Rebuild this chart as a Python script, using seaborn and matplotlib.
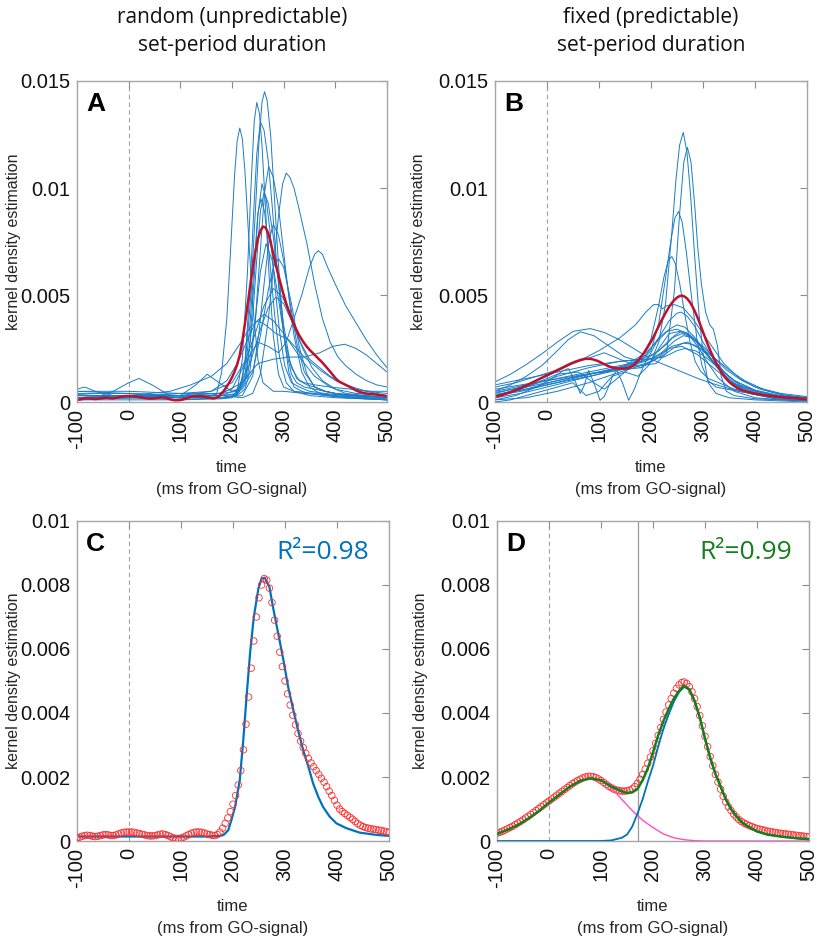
import matplotlib
matplotlib.use("Agg")
import matplotlib.pyplot as plt
import numpy as np
import pandas as pd
import seaborn as sns
from matplotlib.ticker import FuncFormatter

# ---------------- data (density values in units of 1e-3) ----------------
SCALE = 1e-3
T5 = list(range(-100, 505, 5))

# mean KDE, random set-period (panel A red line / panel C circles)
MEAN_A = [0.10, 0.12, 0.15, 0.17, 0.18, 0.17, 0.15, 0.14, 0.15, 0.17, 0.19, 0.20, 0.19, 0.17, 0.17, 0.19, 0.22, 0.25, 0.27, 0.28,
          0.28, 0.28, 0.27, 0.25, 0.23, 0.21, 0.19, 0.17, 0.16, 0.16, 0.17, 0.19, 0.21, 0.22, 0.20, 0.17, 0.13, 0.10, 0.08, 0.08,
          0.09, 0.12, 0.16, 0.20, 0.24, 0.27, 0.28, 0.28, 0.27, 0.25, 0.22, 0.20, 0.18, 0.17, 0.20, 0.28, 0.40, 0.55, 0.72, 0.92,
          1.15, 1.42, 1.75, 2.20, 2.85, 3.65, 4.50, 5.40, 6.25, 7.00, 7.60, 8.00, 8.20, 8.15, 7.90, 7.45, 6.90, 6.40, 5.90, 5.45,
          5.00, 4.60, 4.25, 3.93, 3.63, 3.36, 3.12, 2.92, 2.74, 2.58, 2.44, 2.32, 2.20, 2.08, 1.96, 1.84, 1.70, 1.56, 1.42, 1.27,
          1.12, 1.00, 0.92, 0.86, 0.80, 0.74, 0.68, 0.61, 0.54, 0.49, 0.45, 0.42, 0.40, 0.38, 0.37, 0.36, 0.34, 0.33, 0.31, 0.29, 0.27]

# mean KDE, fixed set-period (panel B red line / panel D circles)
MEAN_B = [0.24, 0.27, 0.30, 0.34, 0.38, 0.42, 0.46, 0.51, 0.56, 0.61, 0.66, 0.72, 0.77, 0.83, 0.89, 0.95, 1.01, 1.07, 1.13, 1.19,
          1.25, 1.31, 1.37, 1.43, 1.49, 1.55, 1.61, 1.67, 1.73, 1.79, 1.84, 1.89, 1.93, 1.97, 2.00, 2.02, 2.02, 2.01, 1.98, 1.94,
          1.89, 1.83, 1.77, 1.71, 1.66, 1.62, 1.59, 1.57, 1.56, 1.56, 1.57, 1.59, 1.63, 1.70, 1.80, 1.93, 2.08, 2.25, 2.43, 2.62,
          2.82, 3.05, 3.30, 3.55, 3.80, 4.03, 4.25, 4.45, 4.62, 4.77, 4.88, 4.95, 4.97, 4.92, 4.82, 4.66, 4.45, 4.20, 3.92, 3.60,
          3.27, 2.95, 2.64, 2.35, 2.08, 1.84, 1.62, 1.40, 1.22, 1.07, 0.95, 0.84, 0.75, 0.67, 0.61, 0.56, 0.52, 0.48, 0.45, 0.42,
          0.39, 0.37, 0.35, 0.33, 0.31, 0.30, 0.28, 0.27, 0.25, 0.24, 0.23, 0.22, 0.21, 0.20, 0.19, 0.18, 0.17, 0.16, 0.15, 0.14, 0.13]

# individual participants, panel A
a01_t = [-100, -60, -20, 20, 60, 100, 140, 170, 180, 190, 197, 205, 210, 215, 220, 225, 233, 240, 250, 260, 280, 300, 340, 400, 450, 500]
a01_v = [0.35, 0.3, 0.3, 0.25, 0.25, 0.2, 0.2, 0.35, 1.4, 3.9, 7.0, 10.6, 12.2, 12.8, 12.3, 10.8, 7.4, 4.6, 2.0, 0.9, 0.5, 0.5, 0.4, 0.3, 0.2, 0.15]
a02_t = [-100, -60, -30, 0, 20, 45, 80, 140, 180, 200, 210, 220, 230, 237, 243, 248, 253, 258, 265, 272, 280, 290, 300, 320, 360, 420, 500]
a02_v = [0.2, 0.25, 0.5, 0.9, 1.1, 0.8, 0.3, 0.2, 0.2, 0.25, 0.5, 2.0, 6.1, 10.2, 13.1, 14.0, 13.5, 12.0, 9.0, 5.8, 3.1, 1.3, 0.7, 0.5, 0.4, 0.2, 0.1]
a03_t = [-100, -85, -65, -30, 0, 100, 180, 200, 215, 225, 235, 245, 252, 258, 263, 268, 275, 282, 290, 300, 310, 320, 335, 350, 380, 420, 500]
a03_v = [0.6, 0.7, 0.5, 0.3, 0.2, 0.1, 0.15, 0.2, 0.5, 1.7, 4.5, 8.8, 12.1, 14.0, 14.5, 14.1, 12.4, 9.6, 6.4, 3.2, 1.4, 0.7, 0.5, 0.4, 0.3, 0.2, 0.1]
a04_t = [-100, 0, 100, 180, 200, 215, 225, 235, 242, 248, 255, 262, 270, 278, 286, 295, 305, 315, 325, 340, 360, 400, 450, 500]
a04_v = [0.3, 0.3, 0.2, 0.2, 0.25, 0.6, 1.9, 5.3, 8.9, 11.6, 13.1, 12.7, 11.3, 9.1, 6.6, 4.2, 2.4, 1.3, 0.9, 0.7, 0.6, 0.4, 0.3, 0.2]
a05_t = [-100, 0, 100, 180, 210, 225, 235, 245, 255, 263, 271, 280, 290, 300, 310, 320, 335, 350, 370, 400, 450, 500]
a05_v = [0.2, 0.2, 0.2, 0.2, 0.3, 0.6, 1.5, 3.8, 7.1, 9.8, 11.0, 10.5, 9.1, 7.0, 4.9, 3.1, 1.4, 0.7, 0.4, 0.3, 0.2, 0.1]
a06_t = [-100, 0, 100, 180, 220, 240, 255, 270, 280, 290, 298, 305, 312, 320, 330, 345, 360, 375, 390, 405, 420, 440, 460, 480, 500]
a06_v = [0.2, 0.2, 0.3, 0.3, 0.2, 0.4, 1.3, 3.8, 6.2, 8.7, 10.2, 10.7, 10.5, 10.0, 9.0, 7.4, 5.5, 3.9, 2.8, 2.1, 1.7, 1.3, 1.0, 0.8, 0.7]
a07_t = [-100, 0, 100, 160, 200, 225, 250, 270, 290, 305, 320, 335, 350, 360, 367, 375, 385, 400, 420, 440, 460, 480, 500]
a07_v = [0.1, 0.2, 0.3, 0.3, 0.6, 1.8, 2.8, 2.6, 2.3, 2.8, 3.9, 5.0, 6.3, 6.9, 7.07, 6.9, 6.3, 5.5, 4.5, 3.7, 2.9, 2.2, 1.6]
a08_t = [-100, 0, 100, 180, 220, 250, 280, 310, 340, 370, 395, 418, 440, 460, 480, 500]
a08_v = [0.3, 0.3, 0.3, 0.4, 0.9, 1.8, 2.0, 2.1, 2.1, 2.3, 2.6, 2.7, 2.5, 2.2, 1.8, 1.4]
a09_t = [-100, 0, 80, 120, 160, 190, 215, 235, 250, 265, 285, 310, 340, 370, 400, 440, 500]
a09_v = [0.2, 0.3, 0.5, 0.8, 1.2, 1.8, 2.7, 3.5, 3.8, 3.6, 3.2, 2.9, 2.1, 1.5, 1.0, 0.6, 0.3]
a10_t = [-100, 0, 100, 160, 190, 210, 230, 245, 262, 280, 300, 320, 340, 360, 390, 420, 460, 500]
a10_v = [0.1, 0.2, 0.3, 0.5, 1.0, 1.8, 2.9, 3.7, 4.1, 3.8, 3.2, 2.5, 1.8, 1.2, 0.7, 0.4, 0.3, 0.2]
a11_t = [-100, 0, 100, 180, 220, 240, 252, 262, 272, 280, 290, 300, 312, 325, 340, 360, 380, 400, 430, 460, 500]
a11_v = [0.1, 0.2, 0.2, 0.2, 0.3, 1.2, 3.2, 5.5, 7.6, 8.3, 7.8, 6.6, 4.7, 2.8, 1.4, 0.7, 0.5, 0.4, 0.3, 0.2, 0.2]
a12_t = [-100, 0, 100, 180, 210, 230, 245, 255, 266, 278, 290, 302, 315, 330, 345, 360, 380, 400, 440, 500]
a12_v = [0.3, 0.3, 0.2, 0.3, 0.4, 1.2, 3.8, 6.1, 7.4, 6.6, 4.8, 2.9, 1.6, 1.0, 0.8, 0.7, 0.5, 0.4, 0.3, 0.2]
a13_t = [-100, 0, 100, 130, 152, 175, 200, 220, 240, 255, 270, 280, 290, 300, 315, 330, 345, 360, 380, 400, 430, 460, 500]
a13_v = [0.4, 0.4, 0.3, 0.8, 1.3, 0.9, 0.5, 0.6, 1.4, 3.1, 5.2, 6.3, 6.7, 6.3, 4.6, 2.6, 1.3, 0.7, 0.5, 0.4, 0.3, 0.3, 0.2]
a14_t = [-100, 0, 100, 160, 200, 225, 245, 262, 280, 298, 315, 335, 355, 375, 400, 440, 500]
a14_v = [0.2, 0.3, 0.4, 0.5, 0.9, 1.9, 3.2, 4.5, 5.3, 4.9, 3.9, 2.6, 1.6, 1.0, 0.6, 0.4, 0.3]
a15_t = [-100, 0, 100, 180, 210, 235, 255, 270, 285, 300, 315, 330, 350, 370, 390, 420, 460, 500]
a15_v = [0.5, 0.4, 0.3, 0.3, 0.6, 1.8, 3.4, 4.4, 4.9, 4.6, 3.8, 2.9, 2.0, 1.6, 1.2, 0.8, 0.5, 0.4]
a16_t = [-100, 0, 100, 180, 210, 225, 235, 243, 250, 258, 266, 274, 282, 292, 302, 315, 330, 350, 380, 420, 500]
a16_v = [0.3, 0.3, 0.3, 0.3, 0.35, 0.9, 2.9, 5.8, 8.7, 10.2, 9.5, 7.9, 5.7, 3.3, 1.7, 0.9, 0.7, 0.5, 0.4, 0.3, 0.2]
a17_t = [-100, 0, 100, 180, 210, 228, 240, 248, 255, 262, 270, 280, 290, 300, 312, 325, 340, 360, 390, 430, 470, 500]
a17_v = [0.5, 0.5, 0.4, 0.4, 0.5, 1.2, 3.9, 6.7, 8.9, 9.8, 9.3, 7.7, 5.6, 3.6, 1.9, 1.1, 0.9, 0.8, 0.7, 0.6, 0.5, 0.5]
a18_t = [-100, 0, 100, 180, 205, 225, 235, 243, 250, 256, 263, 272, 282, 292, 305, 320, 350, 400, 500]
a18_v = [0.1, 0.1, 0.1, 0.2, 0.3, 1.2, 3.7, 6.5, 8.8, 9.5, 8.9, 6.9, 4.2, 2.1, 0.9, 0.5, 0.3, 0.2, 0.1]

# individual participants, panel B
b01_t = [-100, -40, 20, 80, 140, 180, 200, 215, 228, 240, 248, 255, 262, 269, 276, 284, 292, 300, 310, 325, 350, 400, 450, 500]
b01_v = [0.3, 0.6, 1.0, 1.3, 1.5, 1.6, 1.9, 2.8, 4.6, 7.9, 10.4, 12.0, 12.6, 11.7, 9.7, 6.8, 4.2, 2.3, 0.9, 0.4, 0.2, 0.1, 0.05, 0.0]
b02_t = [-100, -40, 20, 80, 140, 180, 210, 230, 245, 255, 263, 270, 277, 284, 290, 297, 305, 313, 320, 328, 335, 345, 360, 400, 450, 500]
b02_v = [0.1, 0.2, 0.5, 0.9, 1.4, 1.7, 1.8, 2.3, 5.2, 8.8, 11.2, 11.9, 11.2, 9.2, 7.2, 5.5, 4.2, 3.6, 3.4, 2.6, 1.2, 0.5, 0.3, 0.15, 0.1, 0.05]
b03_t = [-100, -40, 20, 80, 140, 180, 200, 215, 228, 238, 246, 253, 260, 268, 278, 288, 298, 310, 325, 345, 380, 420, 460, 500]
b03_v = [0.5, 0.8, 1.1, 1.4, 1.7, 1.9, 2.4, 3.7, 5.8, 7.5, 8.6, 8.9, 8.4, 7.0, 4.9, 3.0, 1.7, 1.0, 0.7, 0.6, 0.45, 0.3, 0.2, 0.15]
b04_t = [-100, -40, 20, 80, 140, 180, 200, 215, 225, 233, 240, 247, 255, 265, 275, 285, 295, 310, 330, 360, 400, 450, 500]
b04_v = [0.3, 0.7, 1.2, 1.6, 1.9, 2.0, 2.95, 4.55, 5.85, 6.6, 6.8, 6.45, 5.55, 4.1, 2.8, 1.9, 1.45, 1.1, 0.9, 0.6, 0.4, 0.25, 0.15]
b05_t = [-100, -60, -20, 20, 60, 100, 140, 170, 190, 205, 215, 222, 230, 245, 262, 280, 300, 320, 340, 370, 400, 450, 500]
b05_v = [0.7, 0.9, 1.2, 1.5, 1.9, 2.4, 3.0, 3.6, 4.2, 4.55, 4.55, 4.35, 4.5, 4.55, 4.4, 3.9, 3.2, 2.5, 1.8, 1.1, 0.7, 0.4, 0.25]
b06_t = [-100, -70, -40, -10, 20, 50, 83, 110, 140, 170, 200, 230, 260, 290, 320, 340, 370, 400, 450, 500]
b06_v = [0.94, 1.3, 1.75, 2.25, 2.8, 3.3, 3.43, 3.25, 2.9, 2.45, 2.0, 1.7, 1.4, 1.1, 0.85, 0.7, 0.5, 0.35, 0.2, 0.1]
b07_t = [-100, -70, -40, -10, 20, 40, 64, 90, 120, 150, 180, 210, 240, 270, 300, 330, 370, 420, 500]
b07_v = [0.5, 0.8, 1.2, 1.7, 2.4, 2.9, 3.28, 3.1, 2.6, 2.1, 1.9, 2.1, 2.6, 2.8, 2.4, 1.6, 0.8, 0.35, 0.15]
b08_t = [-100, -60, -20, 10, 30, 41, 52, 64, 72, 80, 90, 102, 110, 118, 126, 134, 145, 157, 168, 179,
         190, 200, 215, 230, 250, 270, 290, 310, 330, 360, 400, 450, 500]
b08_v = [0.1, 0.3, 0.7, 1.1, 1.45, 1.56, 1.1, 0.4, 0.8, 1.48, 0.9, 0.08, 0.25, 0.7, 1.2, 1.48, 0.9, 0.08, 0.6, 1.3,
         1.9, 2.3, 3.0, 3.3, 3.4, 3.2, 2.6, 1.8, 1.1, 0.5, 0.2, 0.1, 0.05]
b09_t = [-100, -50, 0, 50, 100, 150, 190, 215, 235, 250, 258, 270, 285, 300, 320, 345, 370, 400, 440, 500]
b09_v = [0.6, 0.8, 1.0, 1.2, 1.4, 1.6, 2.2, 3.0, 3.8, 4.15, 4.2, 4.0, 3.5, 2.8, 2.0, 1.3, 0.8, 0.5, 0.3, 0.15]
b10_t = [-100, -50, 0, 50, 100, 150, 190, 215, 235, 250, 265, 285, 305, 330, 360, 400, 450, 500]
b10_v = [0.3, 0.5, 0.8, 1.1, 1.4, 1.7, 2.3, 2.9, 3.4, 3.6, 3.5, 3.0, 2.3, 1.6, 1.0, 0.55, 0.3, 0.15]
b11_t = [-100, -50, 0, 50, 100, 150, 190, 210, 230, 245, 258, 272, 290, 310, 335, 365, 400, 450, 500]
b11_v = [0.2, 0.4, 0.7, 1.0, 1.3, 1.7, 2.1, 2.3, 2.7, 3.1, 3.3, 3.2, 2.8, 2.2, 1.4, 0.8, 0.45, 0.2, 0.1]
b12_t = [-100, -40, 20, 80, 140, 190, 220, 245, 262, 280, 300, 320, 345, 375, 410, 450, 500]
b12_v = [0.45, 0.7, 1.0, 1.3, 1.6, 1.9, 2.3, 2.85, 3.1, 3.0, 2.6, 2.1, 1.5, 1.0, 0.6, 0.35, 0.2]
b13_t = [-100, -40, 20, 80, 140, 190, 225, 245, 262, 280, 300, 325, 350, 380, 420, 460, 500]
b13_v = [0.35, 0.6, 0.9, 1.2, 1.5, 1.8, 2.2, 2.55, 2.75, 2.7, 2.45, 2.0, 1.5, 1.0, 0.55, 0.3, 0.2]
b14_t = [-100, -40, 20, 80, 140, 190, 225, 250, 265, 285, 305, 330, 360, 400, 450, 500]
b14_v = [0.8, 1.1, 1.4, 1.7, 1.9, 2.0, 2.1, 2.4, 2.5, 2.4, 2.1, 1.6, 1.0, 0.55, 0.25, 0.12]
b15_t = [-100, -50, 0, 50, 110, 150, 180, 210, 235, 260, 290, 320, 350, 390, 440, 500]
b15_v = [0.4, 0.7, 1.2, 1.8, 2.3, 1.9, 1.6, 2.0, 2.5, 2.6, 2.2, 1.6, 1.0, 0.5, 0.2, 0.1]
b16_t = [-100, -70, -40, -10, 20, 50, 75, 100, 125, 150, 175, 195, 215, 235, 255, 275, 295, 320, 350, 390, 440, 500]
b16_v = [0.0, 0.1, 0.3, 0.5, 0.7, 0.9, 0.3, 0.5, 1.2, 1.4, 1.2, 1.7, 2.5, 3.2, 3.3, 3.1, 2.6, 1.8, 1.0, 0.4, 0.15, 0.05]
b17_t = [-100, -60, -20, 20, 60, 90, 110, 130, 160, 190, 215, 240, 260, 280, 300, 325, 355, 390, 440, 500]
b17_v = [0.2, 0.5, 0.9, 1.3, 1.4, 0.9, 0.6, 1.0, 1.6, 2.0, 2.4, 3.0, 3.2, 3.0, 2.5, 1.7, 0.9, 0.4, 0.15, 0.05]

# single-gaussian fit, panel C
FITC_T = [-100, 150, 175, 182, 191, 197, 204, 213, 220, 226, 233, 240, 249, 255, 261, 270, 277, 287, 297, 306,
          316, 325, 335, 345, 354, 364, 373, 386, 399, 418, 444, 476, 500]
FITC_V = [0.14, 0.14, 0.16, 0.19, 0.34, 0.66, 1.07, 1.9, 3.2, 4.5, 5.9, 7.0, 7.9, 8.2, 8.23, 7.94, 7.3, 6.48, 5.65, 4.82,
          4.09, 3.47, 2.84, 2.32, 1.8, 1.38, 1.07, 0.76, 0.55, 0.4, 0.26, 0.19, 0.16]

# two-gaussian fit, panel D
EARLY_T = [-100, -80, -60, -40, -20, 0, 20, 40, 60, 80, 100, 120, 140, 160, 180, 200, 220, 240, 260, 280, 300, 500]
EARLY_V = [0.22, 0.35, 0.5, 0.7, 0.93, 1.2, 1.45, 1.7, 1.88, 1.96, 1.9, 1.65, 1.3, 0.95, 0.65, 0.42, 0.22, 0.1, 0.04, 0.01, 0.0, 0.0]
LATE_T = [-100, 100, 120, 140, 150, 160, 170, 180, 190, 200, 210, 220, 230, 240, 250, 260, 270, 280, 290, 300,
          310, 320, 330, 340, 350, 360, 370, 380, 400, 420, 450, 480, 500]
LATE_V = [0.0, 0.0, 0.02, 0.1, 0.2, 0.45, 0.85, 1.3, 1.85, 2.35, 2.95, 3.5, 3.95, 4.35, 4.65, 4.82, 4.72, 4.37, 3.86, 3.2,
          2.6, 2.1, 1.7, 1.3, 1.0, 0.78, 0.6, 0.48, 0.3, 0.2, 0.13, 0.08, 0.06]
SUM_T = [-100, -80, -60, -40, -20, 0, 20, 40, 60, 80, 100, 120, 140, 150, 160, 170, 180, 190, 200, 210,
         220, 230, 240, 250, 260, 270, 280, 290, 300, 310, 320, 330, 340, 350, 360, 370, 380, 400, 420, 450, 480, 500]
SUM_V = [0.22, 0.35, 0.5, 0.7, 0.93, 1.2, 1.45, 1.7, 1.88, 1.96, 1.9, 1.7, 1.55, 1.5, 1.52, 1.62, 1.9, 2.27, 2.77, 3.3,
         3.75, 4.12, 4.45, 4.69, 4.84, 4.74, 4.38, 3.86, 3.2, 2.6, 2.1, 1.7, 1.3, 1.0, 0.78, 0.6, 0.48, 0.3, 0.2, 0.13, 0.08, 0.06]

CROSS_T = 172          # boundary between the two fitted components (panel D)
R2_C = "0.98"
R2_D = "0.99"
XTICKS = [-100, 0, 100, 200, 300, 400, 500]
YTICKS_TOP = [0, 0.005, 0.01, 0.015]
YTICKS_BOT = [0, 0.002, 0.004, 0.006, 0.008, 0.01]

A_CURVES = [(a01_t, a01_v), (a02_t, a02_v), (a03_t, a03_v), (a04_t, a04_v), (a05_t, a05_v), (a06_t, a06_v),
            (a07_t, a07_v), (a08_t, a08_v), (a09_t, a09_v), (a10_t, a10_v), (a11_t, a11_v), (a12_t, a12_v),
            (a13_t, a13_v), (a14_t, a14_v), (a15_t, a15_v), (a16_t, a16_v), (a17_t, a17_v), (a18_t, a18_v)]
B_CURVES = [(b01_t, b01_v), (b02_t, b02_v), (b03_t, b03_v), (b04_t, b04_v), (b05_t, b05_v), (b06_t, b06_v),
            (b07_t, b07_v), (b08_t, b08_v), (b09_t, b09_v), (b10_t, b10_v), (b11_t, b11_v), (b12_t, b12_v),
            (b13_t, b13_v), (b14_t, b14_v), (b15_t, b15_v), (b16_t, b16_v), (b17_t, b17_v)]


def long_df(curves):
    rows = []
    for i, (ts, vs) in enumerate(curves):
        for t, v in zip(ts, vs):
            rows.append((i, t, v * SCALE))
    return pd.DataFrame(rows, columns=["subj", "t", "v"])


def line_df(ts, vs):
    return pd.DataFrame({"t": ts, "v": [v * SCALE for v in vs]})


# ---------------- style ----------------
sns.set_theme(style="white")
plt.rcParams["font.family"] = ["Liberation Sans", "DejaVu Sans"]
plt.rcParams["axes.edgecolor"] = "#a6a6a6"
plt.rcParams["axes.linewidth"] = 1.0

BLUE = "#0072BD"
THIN = "#1a7cc6"
DARKRED = "#C0102A"
RED = "#FF2A2A"
GREEN = "#157F1F"
PINK = "#FF4FC4"
GRID = "#a0a0a0"

fig = plt.figure(figsize=(8.2, 9.38), dpi=100)
W, H = 820.0, 938.0
ax_a = fig.add_axes([77 / W, 1 - 402 / H, 310 / W, 321 / H])
ax_b = fig.add_axes([495 / W, 1 - 402 / H, 312 / W, 321 / H])
ax_c = fig.add_axes([77 / W, 1 - 841 / H, 312 / W, 320 / H])
ax_d = fig.add_axes([497 / W, 1 - 841 / H, 312 / W, 320 / H])


def style(ax, ymax, yticks, letter, ylab_x):
    ax.set_xlim(-100, 500)
    ax.set_ylim(0, ymax)
    ax.axvline(0, color=GRID, lw=0.8, ls=(0, (4, 3)), zorder=0)
    ax.set_xticks(XTICKS)
    ax.set_xticklabels([str(x) for x in XTICKS], rotation=90)
    ax.set_yticks(yticks)
    ax.yaxis.set_major_formatter(FuncFormatter(lambda v, p: "%g" % v))
    ax.tick_params(direction="in", length=5, width=0.8, color="#8c8c8c", top=True, right=True,
                   labelsize=14.5, labelcolor="#111111", pad=5)
    for s in ax.spines.values():
        s.set_color("#a6a6a6")
        s.set_visible(True)
    ax.set_xlabel("time\n(ms from GO-signal)", fontsize=12, linespacing=1.55, labelpad=8)
    ax.set_ylabel("kernel density estimation", fontsize=11.5)
    ax.yaxis.set_label_coords(ylab_x, 0.5)
    ax.text(0.03, 0.965, letter, transform=ax.transAxes, ha="left", va="top",
            fontsize=19, fontweight="bold", color="black")


# panel A
sns.lineplot(data=long_df(A_CURVES), x="t", y="v", units="subj", estimator=None, color=THIN,
             lw=0.7, legend=False, ax=ax_a)
sns.lineplot(data=line_df(T5, MEAN_A), x="t", y="v", color=DARKRED, lw=1.8, ax=ax_a)
style(ax_a, 0.015, YTICKS_TOP, "A", -0.18)

# panel B
sns.lineplot(data=long_df(B_CURVES), x="t", y="v", units="subj", estimator=None, color=THIN,
             lw=0.7, legend=False, ax=ax_b)
sns.lineplot(data=line_df(T5, MEAN_B), x="t", y="v", color=DARKRED, lw=1.8, ax=ax_b)
style(ax_b, 0.015, YTICKS_TOP, "B", -0.22)

# panel C
sns.lineplot(data=line_df(FITC_T, FITC_V), x="t", y="v", color=BLUE, lw=1.6, ax=ax_c, zorder=2)
sns.scatterplot(data=line_df(T5, MEAN_A), x="t", y="v", marker="o", s=22, facecolors="none",
                edgecolor=RED, linewidth=0.6, ax=ax_c, zorder=3)
style(ax_c, 0.01, YTICKS_BOT, "C", -0.18)
ax_c.text(0.935, 0.94, "R\u00b2=" + R2_C, transform=ax_c.transAxes, ha="right", va="top",
          fontsize=19, color=BLUE, family=["Open Sans", "DejaVu Sans"])

# panel D
ax_d.axvline(CROSS_T, color="#9a9a9a", lw=0.9, zorder=1)
sns.scatterplot(data=line_df(T5, MEAN_B), x="t", y="v", marker="o", s=22, facecolors="none",
                edgecolor=RED, linewidth=0.6, ax=ax_d, zorder=2)
sns.lineplot(data=line_df(EARLY_T, EARLY_V), x="t", y="v", color=PINK, lw=1.0, ax=ax_d, zorder=3)
sns.lineplot(data=line_df(LATE_T, LATE_V), x="t", y="v", color=BLUE, lw=1.3, ax=ax_d, zorder=3)
sns.lineplot(data=line_df(SUM_T, SUM_V), x="t", y="v", color=GREEN, lw=1.8, ax=ax_d, zorder=4)
style(ax_d, 0.01, YTICKS_BOT, "D", -0.22)
ax_d.text(0.945, 0.94, "R\u00b2=" + R2_D, transform=ax_d.transAxes, ha="right", va="top",
          fontsize=19, color=GREEN, family=["Open Sans", "DejaVu Sans"])

# column titles
for xc, l1 in [(232 / W, "random (unpredictable)"), (651 / W, "fixed (predictable)")]:
    fig.text(xc, 1 - 18 / H, l1, ha="center", va="center", fontsize=15, color="#111111",
             family=["Open Sans", "DejaVu Sans"])
    fig.text(xc, 1 - 46 / H, "set-period duration", ha="center", va="center", fontsize=15,
             color="#111111", family=["Open Sans", "DejaVu Sans"])

fig.savefig("out.png", dpi=100)
